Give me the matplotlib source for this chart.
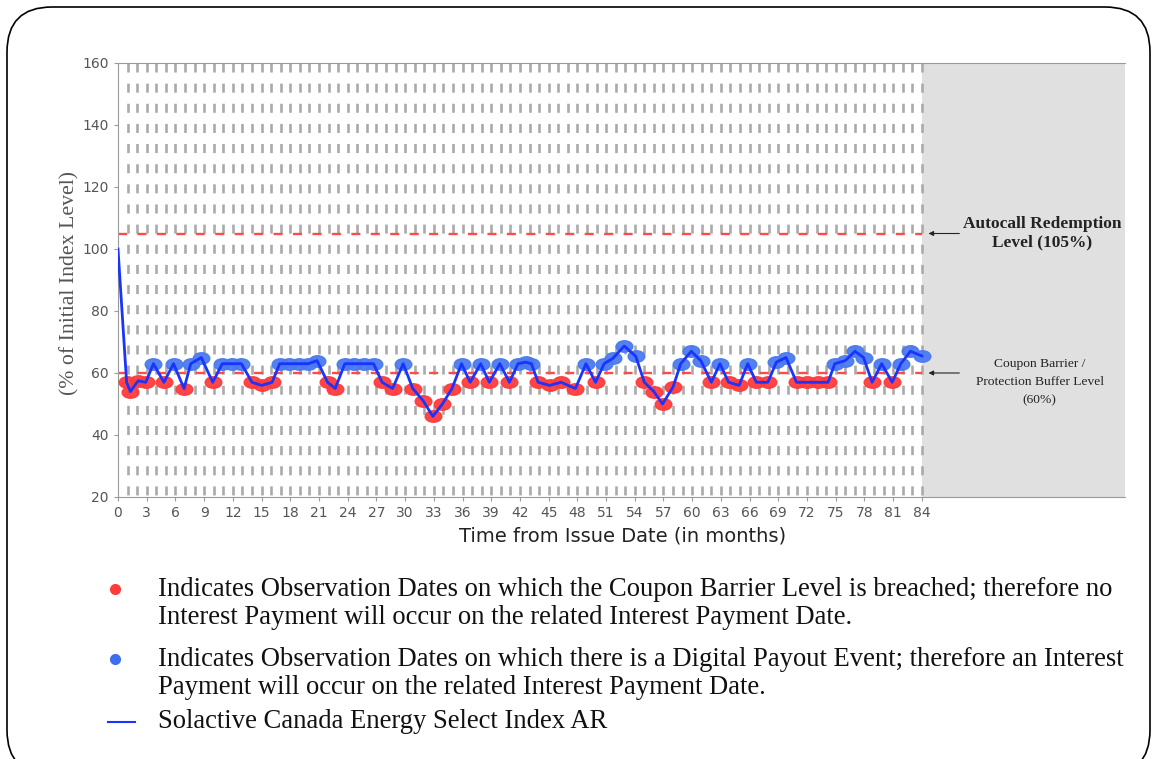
import matplotlib.pyplot as plt
import matplotlib.patches as patches
from matplotlib.lines import Line2D
from matplotlib.path import Path
from matplotlib.transforms import Affine2D

plt.rcParams["lines.scale_dashes"] = False

# observation points (month, % of initial level)
obs_months = [0.9, 1.3, 2.1, 2.9, 3.7, 4.8, 5.8, 6.9, 7.6, 8.7, 9.9, 10.9, 11.9, 12.9,
              14.0, 15.0, 16.1, 16.9, 17.9, 18.9, 19.9, 20.8, 21.9, 22.7, 23.7, 24.7,
              25.7, 26.7, 27.6, 28.7, 29.8, 30.8, 31.9, 32.9, 33.9, 34.9, 35.9, 36.8,
              37.9, 38.8, 39.9, 40.9, 41.8, 42.6, 43.2, 43.9, 45.1, 46.3, 47.8, 48.9,
              49.9, 50.8, 51.7, 52.9, 54.1, 55.0, 56.0, 56.9, 58.0, 58.8, 59.9, 60.9,
              62.0, 62.9, 63.8, 64.9, 65.8, 66.7, 67.9, 68.8, 69.8, 70.9, 72.0, 73.1,
              74.2, 74.9, 76.0, 77.0, 77.9, 78.8, 79.8, 80.9, 81.8, 82.8, 84.0]
obs_values = [57, 54, 57.5, 57, 63, 57, 63, 55, 63, 65, 57, 63, 63, 63,
              57, 56, 57, 63, 63, 63, 63, 64, 57, 55, 63, 63,
              63, 63, 57, 55, 63, 55, 51, 46, 50, 55, 63, 57,
              63, 57, 63, 57, 63, 63.5, 63, 57, 56, 57, 55, 63,
              57, 63, 64.7, 68.7, 65.4, 57, 54, 50, 55.5, 63, 67, 64,
              57, 63, 57, 56, 63, 57, 57, 63.5, 65, 57, 57, 57,
              57, 63, 64, 67, 65, 57, 63, 57, 63, 67, 65.5]
start_value = 100
autocall_level = 105
barrier_level = 60
maturity = 84
x_ticks = list(range(0, 85, 3))
y_ticks = list(range(20, 161, 20))

fig = plt.figure(figsize=(11.53, 7.59), dpi=100)
W, H = 1153, 759


def fx(px):
    return px / W


def fy(py):
    return 1 - py / H


ax = fig.add_axes([fx(118), fy(497), fx(1125) - fx(118), fy(63) - fy(497)])
ax.set_xlim(0, (1125 - 118) / 9.57)
ax.set_ylim(20, 160)

# grey area after maturity
ax.axvspan(maturity, 200, color="#e0e0e0", lw=0, zorder=0)

# monthly vertical dashed grid
grid_x = list(range(1, maturity + 1))
ax.vlines(grid_x, 160, 20, colors="#aaaaaa", linestyles=(0, (6.5, 8.0)), lw=1.9, zorder=1)

# levels
ax.hlines([autocall_level, barrier_level], 0, maturity, colors="#ff4a4a",
          linestyles=(0, (6.5, 7.5)), lw=1.7, zorder=2)

# ellipse marker
ell = Path.unit_circle().transformed(Affine2D().scale(1.45, 1.0))
red_x = [m for m, v in zip(obs_months, obs_values) if v < barrier_level]
red_y = [v for v in obs_values if v < barrier_level]
blue_x = [m for m, v in zip(obs_months, obs_values) if v >= barrier_level]
blue_y = [v for v in obs_values if v >= barrier_level]
ax.plot(red_x, red_y, ls="none", marker=ell, ms=12, mfc="#ff3b3b", mec="#ff3b3b",
        alpha=0.95, zorder=3)
ax.plot(blue_x, blue_y, ls="none", marker=ell, ms=12, mfc="#4a7af0", mec="#4a7af0",
        alpha=0.95, zorder=3)
ax.plot([0] + obs_months, [start_value] + obs_values, color="#1a33ff", lw=2, zorder=4)

# axes styling
ax.spines["right"].set_visible(False)
for s in ["left", "bottom", "top"]:
    ax.spines[s].set_color("#9a9a9a")
ax.set_xticks(x_ticks)
ax.set_yticks(y_ticks)
ax.tick_params(colors="#9a9a9a", labelcolor="#555555", length=3, labelsize=10)

fig.text(fx(623), fy(536), "Time from Issue Date (in months)", ha="center",
         va="center", fontsize=14, color="#222222")
fig.text(fx(70), fy(283), "(% of Initial Index Level)", rotation=90, ha="center",
         va="center", fontsize=15.7, color="#555555", family="Liberation Serif")

# annotations
for lvl in [autocall_level, barrier_level]:
    ax.annotate("", xy=(maturity + 0.4, lvl), xytext=(88.2, lvl),
                arrowprops=dict(arrowstyle="-|>", color="#222222", lw=0.8,
                                mutation_scale=7))
ax.text(96.6, autocall_level, "Autocall Redemption\nLevel (105%)", ha="center",
        va="center", fontsize=12.5, fontweight="bold", family="Liberation Serif",
        color="#222222", linespacing=1.2)
ax.text(96.3, 57.1, "Coupon Barrier /\nProtection Buffer Level\n(60%)", ha="center",
        va="center", fontsize=9.7, family="Liberation Serif", color="#222222",
        linespacing=1.7)

# legend below chart
fig.add_artist(Line2D([fx(115)], [fy(589)], marker="o", ms=7, color="#ff3b3b", ls="none"))
fig.add_artist(Line2D([fx(115)], [fy(659)], marker="o", ms=7, color="#3b6ef0", ls="none"))
fig.add_artist(Line2D([fx(108), fx(135)], [fy(722), fy(722)], color="#1a33ff", lw=1.5))
legend_lines = [
    (589, "Indicates Observation Dates on which the Coupon Barrier Level is breached; therefore no"),
    (618, "Interest Payment will occur on the related Interest Payment Date."),
    (659, "Indicates Observation Dates on which there is a Digital Payout Event; therefore an Interest"),
    (688, "Payment will occur on the related Interest Payment Date."),
    (721, "Solactive Canada Energy Select Index AR"),
]
for py, txt in legend_lines:
    fig.text(fx(158), fy(py), txt, ha="left", va="center", fontsize=19.2,
             family="Liberation Serif", color="#111111")

# rounded frame
frame = patches.FancyBboxPatch((0.07, -0.16), 11.43, 7.68,
                               boxstyle="round,pad=0,rounding_size=0.45",
                               transform=fig.dpi_scale_trans, fill=False,
                               edgecolor="black", lw=1.2)
fig.add_artist(frame)

fig.savefig("out.png", dpi=100)
